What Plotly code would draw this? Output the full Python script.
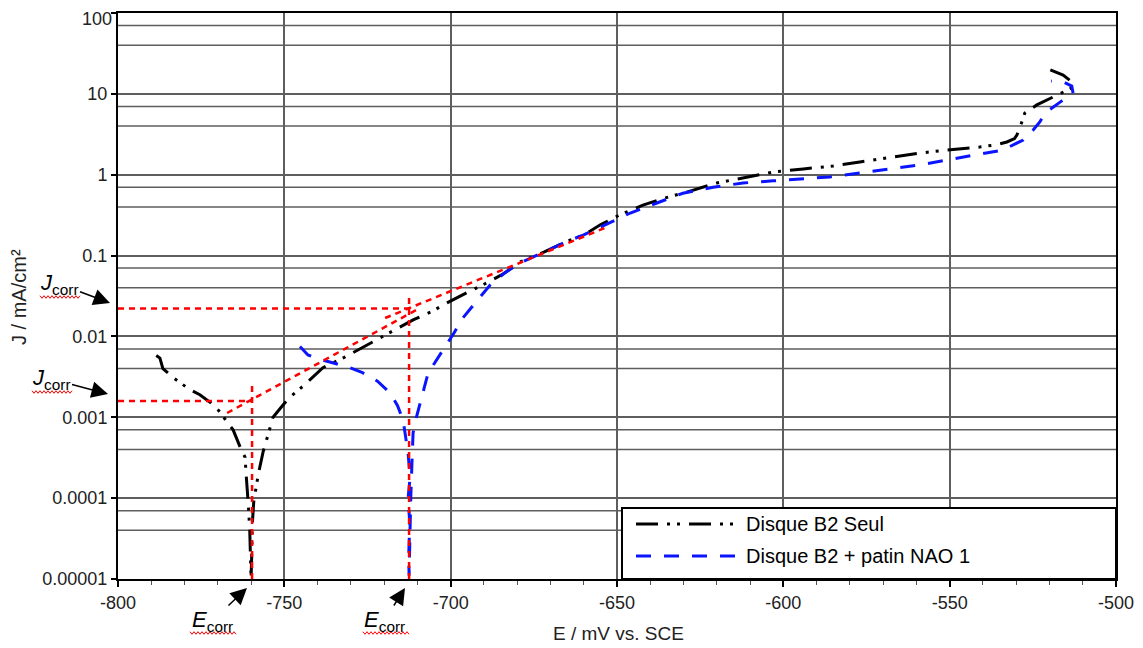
import plotly.graph_objects as go

# ---------------- data ----------------
E_seul = [-788.5, -787.4, -786.5, -783.0, -778.4, -775.4, -772.0, -769.3, -767.0, -765.4,
          -763.3, -761.8, -761.5, -761.0, -760.8, -760.4, -760.3, -760.0,
          -759.8, -759.6, -759.2, -758.6, -757.8, -756.4, -755.0, -753.4, -750.4, -748.3,
          -744.0, -738.4, -732.0, -724.2, -718.0, -711.3, -706.0, -701.1, -695.0, -689.1,
          -684.0, -679.2, -672.0, -665.0, -660.0, -655.0, -649.1, -642.2, -636.0, -629.0,
          -620.0, -611.0, -603.0, -594.0, -585.0, -577.0, -568.8, -559.0, -550.8, -541.0,
          -536.0, -532.8, -530.5, -529.8, -528.9, -528.0, -527.4, -523.8, -518.9, -515.0,
          -513.0, -513.2, -515.9, -520.4]
J_seul = [0.0058, 0.0054, 0.0040, 0.0030, 0.0022, 0.0019, 0.0015, 0.00116, 0.00085, 0.00070,
          0.00043, 0.00032, 0.00020, 0.00012, 0.00008, 0.00004, 0.00002, 0.00001,
          0.00002, 0.00005, 0.00009, 0.00013, 0.00020, 0.00037, 0.0006, 0.0010, 0.00142, 0.00178,
          0.0025, 0.0041, 0.0055, 0.0083, 0.0115, 0.016, 0.020, 0.026, 0.035, 0.046,
          0.060, 0.083, 0.11, 0.15, 0.18, 0.24, 0.32, 0.42, 0.51, 0.61,
          0.79, 0.94, 1.08, 1.18, 1.28, 1.44, 1.61, 1.85, 2.02, 2.2,
          2.35, 2.54, 2.8, 3.1, 3.8, 4.8, 5.8, 7.3, 9.2, 10.8,
          12.0, 14.0, 17.1, 20.3]

E_nao = [-745.3, -744.0, -742.9, -740.0, -736.3, -731.0, -726.7, -722.0, -718.2, -716.0,
         -714.3, -713.3, -712.8, -712.2, -712.8, -712.3, -712.6, -712.5,
         -712.3, -712.0, -711.6, -711.3, -710.3, -709.2, -706.8, -702.3, -699.0, -696.3,
         -692.0, -688.2, -684.0, -679.0, -672.0, -665.0, -660.0, -653.6, -646.0, -638.0,
         -630.2, -621.1, -612.1, -603.1, -595.0, -586.0, -577.0, -568.8, -559.0, -550.8,
         -541.8, -534.0, -527.9, -524.9, -522.9, -521.3, -516.8, -512.9, -513.3, -515.5,
         -519.5]
J_nao = [0.0075, 0.0065, 0.0059, 0.0053, 0.0048, 0.0042, 0.0036, 0.0028, 0.0020, 0.0014,
         0.00092, 0.0005, 0.00036, 0.00018, 0.00010, 0.00005, 0.00002, 0.000011,
         0.00003, 0.0001, 0.0003, 0.00064, 0.0010, 0.0015, 0.0035, 0.0068, 0.011, 0.017,
         0.028, 0.043, 0.060, 0.082, 0.11, 0.15, 0.18, 0.239, 0.336, 0.447,
         0.59, 0.70, 0.79, 0.84, 0.885, 0.94, 1.05, 1.17, 1.32, 1.52,
         1.75, 2.02, 2.69, 3.57, 4.5, 5.8, 7.9, 10.2, 12.5, 13.8,
         14.4]

ecorr = [-759.7, -712.5]          # E_corr of each curve
jcorr = [0.00159, 0.0222]         # J_corr of each curve
ecorr_top = [0.0028, 0.0335]      # top of the E_corr construction lines
j_floor = 0.00001

tafel_seul_E = [-767.2, -710.0]
tafel_seul_J = [0.00113, 0.0216]
tafel_nao_E = [-719.7, -653.0]
tafel_nao_J = [0.0169, 0.225]

series_names = ["Disque B2 Seul", "Disque B2 + patin NAO 1"]

x_ticks = [-800, -750, -700, -650, -600, -550, -500]
x_ticklabels = ["-800", "-750", "-700", "-650", "-600", "-550", "-500"]
y_ticks = [100, 10, 1, 0.1, 0.01, 0.001, 0.0001, 0.00001]
y_ticklabels = ["100", "10", "1", "0.1", "0.01", "0.001", "0.0001", "0.00001"]
y_extra_grid = [70, 40, 7, 4, 0.7, 0.4, 0.07, 0.04, 0.007, 0.004,
                0.0007, 0.0004, 0.00007, 0.00004]

# ---------------- styles ----------------
FONT = "Liberation Sans, Arial, sans-serif"
BLACK_DASH = "22px,9px,3px,7px,3px,9px"
BLUE_DASH = "15px,13px"
RED_DASH = "6px,5px"
RED = "#ff0000"
BLUE = "#0a14ff"
GRID = "#5e5e5e"

# page has an 8px body margin: figure is 8px smaller, margins shifted by 8px
W, H = 1135, 640
L, R, T, B = 110, 27, 5, 69
PW, PH = W - L - R, H - T - B
SX0, SY1 = 118, 579   # plot-area left / bottom in screen pixels


def pxx(x):
    return (x - SX0) / PW


def pxy(y):
    return (SY1 - y) / PH


fig = go.Figure()

fig.add_trace(go.Scatter(x=E_seul, y=J_seul, mode="lines", name=series_names[0],
                         line=dict(color="black", width=3, dash=BLACK_DASH),
                         showlegend=False))
fig.add_trace(go.Scatter(x=E_nao, y=J_nao, mode="lines", name=series_names[1],
                         line=dict(color=BLUE, width=3, dash=BLUE_DASH),
                         showlegend=False))

red_line = dict(color=RED, width=2.5, dash=RED_DASH)
for e, j, top in zip(ecorr, jcorr, ecorr_top):
    fig.add_trace(go.Scatter(x=[x_ticks[0], e], y=[j, j], mode="lines",
                             line=red_line, showlegend=False, hoverinfo="skip"))
    fig.add_trace(go.Scatter(x=[e, e], y=[j_floor, top], mode="lines",
                             line=red_line, showlegend=False, hoverinfo="skip"))
fig.add_trace(go.Scatter(x=tafel_seul_E, y=tafel_seul_J, mode="lines",
                         line=red_line, showlegend=False, hoverinfo="skip"))
fig.add_trace(go.Scatter(x=tafel_nao_E, y=tafel_nao_J, mode="lines",
                         line=red_line, showlegend=False, hoverinfo="skip"))

shapes = []
for v in y_extra_grid:
    shapes.append(dict(type="line", xref="paper", x0=0, x1=1, yref="y", y0=v, y1=v,
                       layer="below", line=dict(color=GRID, width=1.5)))

# legend box (drawn manually to match the reference layout)
shapes.append(dict(type="rect", xref="paper", yref="paper",
                   x0=pxx(622), x1=1, y0=0, y1=pxy(508),
                   fillcolor="white", line=dict(color="black", width=2), layer="above"))
shapes.append(dict(type="line", xref="paper", yref="paper",
                   x0=pxx(636), x1=pxx(740), y0=pxy(524), y1=pxy(524),
                   line=dict(color="black", width=3, dash=BLACK_DASH)))
shapes.append(dict(type="line", xref="paper", yref="paper",
                   x0=pxx(636), x1=pxx(740), y0=pxy(556), y1=pxy(556),
                   line=dict(color=BLUE, width=3, dash=BLUE_DASH)))


def squiggle(x0, x1, y):
    pts = []
    x = x0
    k = 0
    while x <= x1:
        yy = y + (1.3 if k % 2 else -1.3)
        pts.append(f"{pxx(x):.5f},{pxy(yy):.5f}")
        x += 2
        k += 1
    return "M" + " L".join(pts)


for (a, b, yy) in [(40, 80, 297), (32, 72, 392), (190, 236, 633), (363, 409, 633)]:
    shapes.append(dict(type="path", xref="paper", yref="paper", path=squiggle(a, b, yy),
                       line=dict(color=RED, width=1)))

ann = []
ann.append(dict(text=series_names[0], xref="paper", yref="paper", x=pxx(744), y=pxy(524),
                xanchor="left", yanchor="middle", showarrow=False,
                font=dict(family=FONT, size=20, color="black")))
ann.append(dict(text=series_names[1], xref="paper", yref="paper", x=pxx(744), y=pxy(556),
                xanchor="left", yanchor="middle", showarrow=False,
                font=dict(family=FONT, size=20, color="black")))

# top tick label kept inside the page (the page edge would cut the axis label)
ann.append(dict(text=y_ticklabels[0], xref="paper", yref="paper", x=pxx(113), y=pxy(8.5),
                xanchor="right", yanchor="top", showarrow=False, borderpad=0,
                font=dict(family=FONT, size=18, color="#222")))

jtxt = "<i>J</i><sub>corr</sub>"
etxt = "<i>E</i><sub>corr</sub>"
arrow_kw = dict(showarrow=True, arrowhead=2, arrowsize=2.2, arrowwidth=1.5,
                arrowcolor="black", xref="paper", yref="paper",
                font=dict(family=FONT, size=22, color="black"))
ann.append(dict(text=jtxt, x=pxx(110), y=pxy(303), ax=-51, ay=-19, **arrow_kw))
ann.append(dict(text=jtxt, x=pxx(108), y=pxy(394), ax=-57, ay=-15, **arrow_kw))
ann.append(dict(text=etxt, x=pxx(247), y=pxy(588), ax=-35, ay=33, **arrow_kw))
ann.append(dict(text=etxt, x=pxx(405), y=pxy(588), ax=-21, ay=33, **arrow_kw))

# axis titles
ann.append(dict(text="E / mV vs. SCE", xref="paper", yref="paper", x=pxx(618), y=pxy(633),
                showarrow=False, xanchor="center", yanchor="middle",
                font=dict(family=FONT, size=19, color="#222")))
ann.append(dict(text="J / mA/cm²", xref="paper", yref="paper", x=pxx(19), y=pxy(297),
                showarrow=False, xanchor="center", yanchor="middle", textangle=-90,
                font=dict(family=FONT, size=20, color="#222")))

fig.update_layout(
    width=W, height=H,
    margin=dict(l=L, r=R, t=T, b=B, autoexpand=False),
    paper_bgcolor="white", plot_bgcolor="white",
    showlegend=False,
    shapes=shapes, annotations=ann,
    font=dict(family=FONT, size=18, color="#222"),
    xaxis=dict(range=[-800, -500], tickvals=x_ticks, ticktext=x_ticklabels,
               showgrid=True, gridcolor=GRID, gridwidth=1.5,
               showline=True, linecolor="black", linewidth=2, mirror=True,
               ticks="outside", ticklen=6, tickwidth=1.5, tickcolor="black",
               minor=dict(dtick=10, tick0=-800, ticks="outside", ticklen=4,
                          tickcolor="#555", tickwidth=1, showgrid=False),
               ticklabeloverflow="allow", automargin=False,
               tickfont=dict(family=FONT, size=18, color="#222"), zeroline=False),
    yaxis=dict(type="log", range=[-5, 2], tickvals=y_ticks,
               ticktext=[""] + y_ticklabels[1:],
               showgrid=True, gridcolor=GRID, gridwidth=1.5,
               showline=True, linecolor="black", linewidth=2, mirror=True,
               ticks="outside", ticklen=5, tickwidth=1.5, tickcolor="black",
               ticklabeloverflow="allow", automargin=False,
               tickfont=dict(family=FONT, size=18, color="#222"), zeroline=False),
)

fig.write_html("out.html")
